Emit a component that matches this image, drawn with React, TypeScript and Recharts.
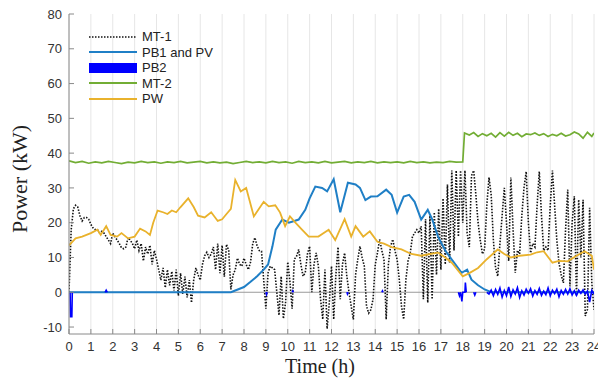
import React from 'react';
import { CartesianGrid, Line, LineChart, ReferenceLine, XAxis, YAxis } from 'recharts';

// hour ticks along the bottom, power ticks on the left
const hourTicks = [0, 1, 2, 3, 4, 5, 6, 7, 8, 9, 10, 11, 12, 13, 14, 15, 16, 17, 18, 19, 20, 21, 22, 23, 24];
const powerTicks = [-10, 0, 10, 20, 30, 40, 50, 60, 70, 80];

// MT-1, sampled every 0.1 h (one row per hour)
const mt1 = [
  0, 18, 24, 25, 24.5, 22, 20.5, 21.5, 21.5, 21,
  19.5, 18.5, 18, 18, 17, 17.5, 17, 16, 15, 14,
  17, 16, 15, 14, 12.8, 12.5, 13, 15.7, 15, 14,
  12.5, 15, 12, 14, 9, 13, 11, 13.5, 8, 12,
  9.5, 6.5, 3.5, 7, 1.3, 6.5, 2, 6, 0.5, 6.5,
  -1, 5.5, -0.5, 4.5, -1.5, 3.5, -3, 3.5, 7, 5,
  3.5, 8, 10.5, 11.5, 10, 11, 13, 6.5, 14, 5.5,
  13.5, 4.5, 13.8, 12, 0.8, 5, 6.5, 9.8, 8, 7.5,
  9.8, 8, 6.5, 8.7, 14, 15.7, 13.3, 12, 11.8, 3.6,
  -4.7, 5.6, 7.5, 7, 6.5, 0, -6.6, 4.6, -7.6, -3,
  8.7, 3, -4.7, 9.5, 10.3, 12.3, 8, 4.6, 5.6, 11,
  13.2, 0, 8, 11.3, 7.5, -2, -7.8, 6.5, -10.5, -3,
  7.5, -7.8, 5, 13, -2, 8, 11.3, 4.6, 0, -4,
  -7.8, 5, 9.4, 13.2, 10, 7.5, -4, -6, -5, -2,
  8, 11.3, 15.2, 12, 9.4, -7.8, 8, 13.2, 15.2, 12,
  9.4, 3.6, -4, -7.8, 3.6, 9, 11.3, 16, 17, 18,
  17, 19, -2, 21, -3, 22, -2, 23, 5, 24,
  6.5, 27, 8, 31, 8.5, 35, 12, 35, 16, 35,
  20, 35, 17, 13, 33.5, 35, 28, 20, 15, 11,
  12.5, 25, 33, 28, 15, 7, 4.6, 14, 22, 30,
  20, 9, 33, 18, 5.6, 12, 11, 22, 30, 34.7,
  20, 11.3, 14, 13, 25, 34.7, 22, 12, 13, 12,
  25, 35, 25, 15, 8.4, 5, 2.7, 18, 29.5, 1.7,
  20, 27.6, -1.1, 26.6, 10, 26.6, -6.8, -5, 24.3, 2.7,
  -5,
];

// [time h, kW]
const pb1: [number, number][] = [
  [0, 0], [7.4, 0], [7.6, 0.5], [8, 1.5], [8.3, 3], [8.6, 4.6], [8.9, 6.5], [9.1, 8],
  [9.3, 13.2], [9.45, 18], [9.75, 20.9], [10.05, 20], [10.3, 20.5], [10.5, 20.9], [10.8, 23.7],
  [11.0, 27], [11.26, 30.4], [11.57, 30], [11.8, 29], [12.1, 32.5], [12.4, 23], [12.75, 31.5],
  [13.1, 31], [13.3, 30], [13.55, 26.5], [13.8, 27.5], [14.1, 27.6], [14.5, 29.5], [14.75, 28],
  [15.0, 22.9], [15.3, 27.5], [15.55, 28], [15.8, 26], [16.1, 20.9], [16.4, 23.7], [16.6, 21],
  [16.87, 16], [17.2, 12], [17.5, 9.4], [17.95, 5.6], [18.2, 6.5], [18.4, 3.6], [18.7, 2],
  [19.0, 0.8], [19.3, 0], [24, 0],
];

// PB2 only shows where it leaves zero; null breaks the trace
const pb2: [number, number | null][] = [
  [0.05, 0], [0.07, -7], [0.13, -7], [0.15, 0], [0.2, null],
  [1.65, 0], [1.7, 0.6], [1.75, 0], [1.8, null],
  [9.0, 0], [9.03, -0.6], [9.06, 0], [9.1, null],
  [10.2, 0], [10.23, 0.4], [10.26, 0], [10.3, null],
  [12.7, 0], [12.73, -0.5], [12.76, 0], [12.8, null],
  [14.3, 0], [14.33, 0.4], [14.36, 0], [14.4, null],
  [17.8, 0], [17.85, -1], [17.9, 0], [17.96, -2.6], [18.0, 0], [18.1, 0], [18.12, 2.8], [18.16, 0],
  [18.2, null],
  [18.5, 0], [18.55, -0.8], [18.6, 0], [18.7, null],
  [19.1, 0], [19.2, -0.5], [19.3, 0.6], [19.4, -1], [19.5, 0.8], [19.6, -0.6], [19.7, 1.2], [19.8, -1.4],
  [19.9, 0.5], [20.0, -1.0], [20.1, 1.5], [20.2, -1.2], [20.3, 0.7], [20.4, -0.5], [20.5, 1.3],
  [20.6, -1.5], [20.7, 0.4], [20.8, -0.8], [20.9, 0.9], [21.0, -0.3], [21.1, 1.0], [21.2, -1.1],
  [21.3, 0.5], [21.4, -0.6], [21.5, 1.1], [21.6, -0.9], [21.7, 0.3], [21.8, -0.7], [21.9, 1.2],
  [22.0, -1.0], [22.1, 0.6], [22.2, -0.4], [22.3, 0.9], [22.4, -1.3], [22.5, 0.5], [22.6, -0.6],
  [22.7, 0.8], [22.8, -0.5], [22.9, 1.0], [23.0, -0.8], [23.1, 0.4], [23.2, -0.9], [23.3, 0.6],
  [23.4, -0.3], [23.5, 0.7], [23.6, -0.5], [23.7, 0.3], [23.8, -2.8], [23.9, 0.5], [24.0, -0.5],
];

const mt2: [number, number][] = [
  [0, 37.8], [0.3, 37.3], [0.6, 37.6], [0.9, 37.1], [1.2, 37.5], [1.5, 37.2], [1.8, 37.6],
  [2.1, 37.3], [2.4, 37.0], [2.7, 37.4], [3.0, 37.2], [3.3, 37.6], [3.6, 37.3], [3.9, 37.5],
  [4.2, 37.1], [4.5, 37.5], [4.8, 37.3], [5.1, 37.6], [5.4, 37.2], [5.7, 37.4], [6.0, 37.6],
  [6.3, 37.2], [6.6, 37.5], [6.9, 37.2], [7.2, 37.4], [7.5, 37.0], [7.8, 37.3], [8.1, 37.6],
  [8.4, 37.3], [8.7, 37.5], [9.0, 37.2], [9.3, 37.6], [9.6, 37.3], [9.9, 37.5], [10.2, 37.1],
  [10.5, 37.6], [10.8, 37.3], [11.1, 37.5], [11.4, 37.2], [11.7, 37.6], [12.0, 37.2], [12.3, 37.4],
  [12.6, 37.6], [12.9, 37.2], [13.2, 37.5], [13.5, 37.3], [13.8, 37.6], [14.1, 37.2], [14.4, 37.5],
  [14.7, 37.3], [15.0, 37.5], [15.3, 37.2], [15.6, 37.6], [15.9, 37.3], [16.2, 37.5], [16.5, 37.2],
  [16.8, 37.4], [17.1, 37.3], [17.4, 37.6], [17.7, 37.4], [18.0, 37.5], [18.08, 45.8], [18.3, 45.2],
  [18.5, 45.9], [18.7, 44.8], [18.9, 45.6], [19.1, 45.0], [19.3, 45.7], [19.5, 44.6], [19.7, 45.9],
  [19.9, 44.9], [20.1, 46.0], [20.3, 45.1], [20.5, 45.7], [20.7, 44.7], [20.9, 45.5], [21.1, 45.3],
  [21.3, 45.8], [21.5, 45.1], [21.7, 45.6], [21.9, 44.8], [22.1, 45.4], [22.3, 45.0], [22.5, 45.7],
  [22.7, 44.9], [22.9, 45.3], [23.1, 46.1], [23.3, 45.5], [23.5, 44.3], [23.7, 46.0], [23.9, 44.8],
  [24.0, 45.8],
];

const pw: [number, number][] = [
  [0, 13.5], [0.3, 15.5], [0.6, 16], [1.0, 17], [1.3, 18], [1.45, 16.5], [1.7, 19], [1.9, 16.5],
  [2.2, 16], [2.4, 17], [2.7, 15.5], [3.0, 16], [3.25, 18.3], [3.5, 17.5], [3.7, 16.5], [3.85, 20],
  [4.05, 23.5], [4.3, 23], [4.5, 22.5], [4.7, 23.5], [4.9, 23], [5.1, 24.5], [5.45, 27], [5.7, 24.5],
  [5.9, 22], [6.2, 21.5], [6.5, 23], [6.8, 20.5], [7.0, 21], [7.2, 22.5], [7.4, 24], [7.6, 32.3],
  [7.85, 29], [8.1, 30], [8.45, 21.8], [8.9, 26], [9.13, 24.7], [9.43, 25], [9.65, 22.9], [9.88, 19],
  [10.1, 21.8], [10.35, 20], [10.65, 18], [10.96, 16], [11.4, 16], [11.87, 18], [12.17, 15],
  [12.6, 21], [12.9, 16], [13.1, 19], [13.45, 16], [13.75, 17.5], [14.1, 14.5], [14.4, 14],
  [14.75, 13], [15.2, 12.3], [15.65, 11], [16.1, 10.5], [16.5, 11], [16.87, 11.4], [17.2, 10],
  [17.5, 8.5], [18.0, 4.6], [18.3, 5.5], [18.7, 7], [19.1, 9.5], [19.6, 12.3], [19.9, 11],
  [20.2, 10], [20.6, 10.5], [21.1, 10.8], [21.4, 11.5], [21.7, 11.8], [22.1, 8.5], [22.4, 9],
  [22.8, 8.9], [23.2, 10.5], [23.57, 11.8], [23.9, 10.5], [24, 6.5],
];

const toRows = (pairs: [number, number | null][]) => pairs.map(([t, v]) => ({ t, v }));
const mt1Rows = mt1.map((v, i) => ({ t: i / 10, v }));

const series = [
  { name: 'MT-1', color: '#111111', kind: 'dot' },
  { name: 'PB1 and PV', color: '#1f7fc6', kind: 'line' },
  { name: 'PB2', color: '#0000ff', kind: 'bar' },
  { name: 'MT-2', color: '#72ad34', kind: 'line' },
  { name: 'PW', color: '#e9b22c', kind: 'line' },
];

const tickFont = { fontSize: 13, fill: '#333', fontFamily: 'Liberation Sans, Arial, sans-serif' };
const axisGray = '#8a8a8a';

function Legendbox() {
  return (
    <div style={{ position: 'absolute', left: 88, top: 29, fontFamily: 'Liberation Sans, Arial, sans-serif', fontSize: 13, color: '#222' }}>
      {series.map((s) => (
        <div key={s.name} style={{ display: 'flex', alignItems: 'center', height: 15.5 }}>
          <svg width={50} height={12} style={{ marginRight: 4 }}>
            {s.kind === 'bar' ? (
              <rect x={1} y={1} width={48} height={10} fill={s.color} />
            ) : (
              <line x1={1} x2={49} y1={6} y2={6} stroke={s.color} strokeWidth={s.kind === 'dot' ? 1.6 : 2}
                strokeDasharray={s.kind === 'dot' ? '1.5 1.5' : undefined} />
            )}
          </svg>
          <span>{s.name}</span>
        </div>
      ))}
    </div>
  );
}

export default function App() {
  return (
    <div style={{ position: 'absolute', left: 0, top: 0, width: 598, height: 379, background: '#fff' }}>
      <LineChart width={598} height={379} margin={{ top: 14, right: 4, left: 0, bottom: 0 }}>
        <CartesianGrid vertical horizontal={false} stroke="#e6e6e6" />
        <XAxis
          dataKey="t" type="number" domain={[0, 24]} ticks={hourTicks} interval={0}
          tick={tickFont} tickSize={-5} tickMargin={13} height={45} stroke={axisGray}
          allowDataOverflow
          label={() => (
            <text x={320} y={373} textAnchor="middle" fontFamily="Liberation Serif, Times New Roman, serif" fontSize={20} fill="#222">
              Time  (h)
            </text>
          )}
        />
        <XAxis xAxisId="top" orientation="top" type="number" domain={[0, 24]} ticks={hourTicks} interval={0}
          tickSize={-5} tickFormatter={() => ''} height={0} stroke={axisGray} allowDataOverflow />
        <YAxis
          type="number" domain={[-12, 80]} ticks={powerTicks} interval={0}
          tick={tickFont} tickSize={-5} tickMargin={12} width={69} stroke={axisGray}
          allowDataOverflow
          label={() => (
            <text x={27} y={179} transform="rotate(-90, 27, 179)" textAnchor="middle"
              fontFamily="Liberation Serif, Times New Roman, serif" fontSize={22} fill="#222">
              Power (kW)
            </text>
          )}
        />
        <YAxis yAxisId="right" orientation="right" type="number" domain={[-12, 80]} ticks={powerTicks} interval={0}
          tickSize={-5} tickFormatter={() => ''} width={0} stroke={axisGray} allowDataOverflow />
        <ReferenceLine y={0} stroke="#9a9a9a" strokeWidth={1} />
        <Line data={mt1Rows} dataKey="v" name="MT-1" type="linear" stroke="#111111" strokeWidth={1.6}
          strokeDasharray="1.5 1.5" dot={false} isAnimationActive={false} />
        <Line data={toRows(pb1)} dataKey="v" name="PB1 and PV" type="linear" stroke="#1f7fc6" strokeWidth={2}
          dot={false} isAnimationActive={false} />
        <Line data={toRows(pb2)} dataKey="v" name="PB2" type="linear" stroke="#0000ff" strokeWidth={1.6}
          dot={false} connectNulls={false} isAnimationActive={false} />
        <Line data={toRows(mt2)} dataKey="v" name="MT-2" type="linear" stroke="#72ad34" strokeWidth={1.7}
          dot={false} isAnimationActive={false} />
        <Line data={toRows(pw)} dataKey="v" name="PW" type="linear" stroke="#e9b22c" strokeWidth={1.8}
          dot={false} isAnimationActive={false} />
      </LineChart>
      <Legendbox />
    </div>
  );
}
